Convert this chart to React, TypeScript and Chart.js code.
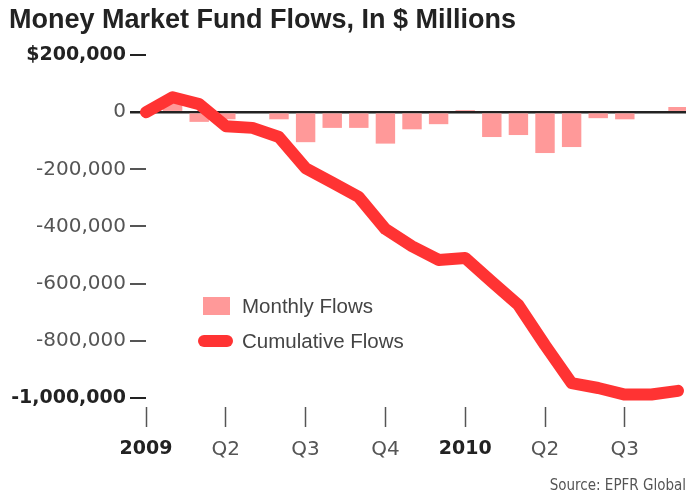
import React, { useEffect, useRef } from 'react';
import { Chart, registerables } from 'chart.js';

Chart.register(...registerables);

const monthLabels = [
  'Jan 2009', 'Feb 2009', 'Mar 2009', 'Apr 2009', 'May 2009', 'Jun 2009', 'Jul 2009',
  'Aug 2009', 'Sep 2009', 'Oct 2009', 'Nov 2009', 'Dec 2009', 'Jan 2010', 'Feb 2010',
  'Mar 2010', 'Apr 2010', 'May 2010', 'Jun 2010', 'Jul 2010', 'Aug 2010', 'Sep 2010',
];
const monthlyFlows = [
  0, 40000, -34000, -25000, 0, -25000, -105000, -55000, -55000, -110000, -60000,
  -42000, 7000, -87000, -80000, -143000, -122000, -21000, -25000, 0, 18000,
];
const cumulativeFlows = [
  0, 52000, 28000, -49000, -55000, -87000, -196000, -246000, -297000, -409000, -469000,
  -517000, -510000, -593000, -675000, -815000, -948000, -965000, -988000, -988000, -975000,
];
const quarterTicks = [0, 3, 6, 9, 12, 15, 18];
const quarterLabels = ['2009', 'Q2', 'Q3', 'Q4', '2010', 'Q2', 'Q3'];
const yTickValues = [200000, 0, -200000, -400000, -600000, -800000, -1000000];
const boldYValues = [200000, -1000000];
const boldXLabels = ['2009', '2010'];

function fmtY(v: number): string {
  if (v === 0) return '0';
  const s = String(Math.abs(v)).replace(/\B(?=(\d{3})+(?!\d))/g, ',');
  return v > 0 ? '$' + s : '-' + s;
}

const AXIS_FONT = "'DejaVu Sans', 'Liberation Sans', sans-serif";

export default function App() {
  const ref = useRef<HTMLCanvasElement | null>(null);

  useEffect(() => {
    if (!ref.current) return;
    const chart = new Chart(ref.current, {
      type: 'bar',
      data: {
        labels: monthLabels,
        datasets: [
          {
            type: 'line',
            label: 'Cumulative Flows',
            data: cumulativeFlows.map((v, i) => ({ x: i, y: v })),
            borderColor: '#ff3333',
            borderWidth: 12,
            borderJoinStyle: 'round',
            borderCapStyle: 'round',
            pointRadius: 0,
            tension: 0,
            fill: false,
            order: 0,
            clip: false as any,
          } as any,
          {
            type: 'bar',
            label: 'Monthly Flows',
            data: monthlyFlows.map((v, i) => ({ x: i, y: v })),
            backgroundColor: '#ff9999',
            borderWidth: 0,
            barPercentage: 0.73,
            categoryPercentage: 1,
            order: 1,
          } as any,
        ],
      },
      options: {
        responsive: false,
        animation: false,
        events: [],
        layout: { padding: { top: 55, left: 0, right: 0, bottom: 0 } },
        plugins: {
          legend: { display: false },
          tooltip: { enabled: false },
          title: { display: false },
        },
        scales: {
          x: {
            type: 'linear',
            min: 0,
            max: 20.3,
            offset: false,
            border: { display: false },
            grid: {
              offset: false,
              drawOnChartArea: false,
              drawTicks: true,
              tickLength: 20,
              tickColor: '#555',
              tickWidth: 1.5,
            },
            afterBuildTicks: (scale: any) => {
              scale.ticks = quarterTicks.map((v) => ({ value: v }));
            },
            afterFit: (scale: any) => {
              scale.height = 86;
            },
            ticks: {
              autoSkip: false,
              maxRotation: 0,
              padding: 11,
              callback: (value: any) => {
                const i = quarterTicks.indexOf(Number(value));
                return i >= 0 ? quarterLabels[i] : '';
              },
              font: (ctx: any) => {
                const i = quarterTicks.indexOf(ctx.tick ? ctx.tick.value : -1);
                const bold = i >= 0 && boldXLabels.includes(quarterLabels[i]);
                return { family: AXIS_FONT, size: bold ? 19 : 20, weight: bold ? 'bold' : 'normal' };
              },
              color: (ctx: any) => {
                const i = quarterTicks.indexOf(ctx.tick ? ctx.tick.value : -1);
                const bold = i >= 0 && boldXLabels.includes(quarterLabels[i]);
                return bold ? '#222' : '#555';
              },
            },
          },
          y: {
            type: 'linear',
            min: -1031500,
            max: 200000,
            border: { display: false },
            grid: {
              drawOnChartArea: true,
              drawTicks: true,
              tickLength: 16,
              color: (ctx: any) => (ctx.tick && ctx.tick.value === 0 ? '#222' : 'rgba(0,0,0,0)'),
              lineWidth: (ctx: any) => (ctx.tick && ctx.tick.value === 0 ? 2.5 : 0),
              tickColor: (ctx: any) => {
                const v = ctx.tick ? ctx.tick.value : NaN;
                return v === 0 || boldYValues.includes(v) ? '#222' : '#555';
              },
              tickWidth: (ctx: any) => (ctx.tick && ctx.tick.value === 0 ? 2.5 : 2),
            },
            afterBuildTicks: (scale: any) => {
              scale.ticks = yTickValues.map((v) => ({ value: v }));
            },
            afterFit: (scale: any) => {
              scale.width = 146;
            },
            ticks: {
              padding: 4,
              callback: (value: any) => fmtY(Number(value)),
              font: (ctx: any) => {
                const bold = ctx.tick && boldYValues.includes(ctx.tick.value);
                return { family: AXIS_FONT, size: bold ? 19 : 20, weight: bold ? 'bold' : 'normal' };
              },
              color: (ctx: any) => {
                const bold = ctx.tick && boldYValues.includes(ctx.tick.value);
                return bold ? '#222' : '#555';
              },
            },
          },
        },
      } as any,
    });
    return () => chart.destroy();
  }, []);

  return (
    <div style={{ position: 'absolute', left: 0, top: 0, width: 686, height: 493, background: '#fff', overflow: 'hidden' }}>
      <canvas ref={ref} width={686} height={493} style={{ position: 'absolute', left: 0, top: 0, width: 686, height: 493 }} />
      <div
        style={{
          position: 'absolute', left: 9, top: 6, fontFamily: "'Liberation Sans', Arial, sans-serif",
          fontWeight: 'bold', fontSize: 27, lineHeight: '27px', color: '#222', whiteSpace: 'nowrap',
        }}
      >
        Money Market Fund Flows, In $ Millions
      </div>
      <div style={{ position: 'absolute', left: 203, top: 297, width: 27, height: 18, background: '#ff9999' }} />
      <div
        style={{
          position: 'absolute', left: 242, top: 294, fontFamily: "'Liberation Sans', Arial, sans-serif",
          fontSize: 20.5, lineHeight: '24px', color: '#444', whiteSpace: 'nowrap',
        }}
      >
        Monthly Flows
      </div>
      <div style={{ position: 'absolute', left: 198, top: 335, width: 35, height: 12, borderRadius: 6, background: '#ff3333' }} />
      <div
        style={{
          position: 'absolute', left: 242, top: 329, fontFamily: "'Liberation Sans', Arial, sans-serif",
          fontSize: 20.5, lineHeight: '24px', color: '#444', whiteSpace: 'nowrap',
        }}
      >
        Cumulative Flows
      </div>
      <div
        style={{
          position: 'absolute', right: 0, top: 476, fontFamily: "'DejaVu Sans Condensed', 'Liberation Sans Narrow', sans-serif",
          fontSize: 15, lineHeight: '18px', color: '#555', whiteSpace: 'nowrap',
        }}
      >
        Source: EPFR Global
      </div>
    </div>
  );
}
